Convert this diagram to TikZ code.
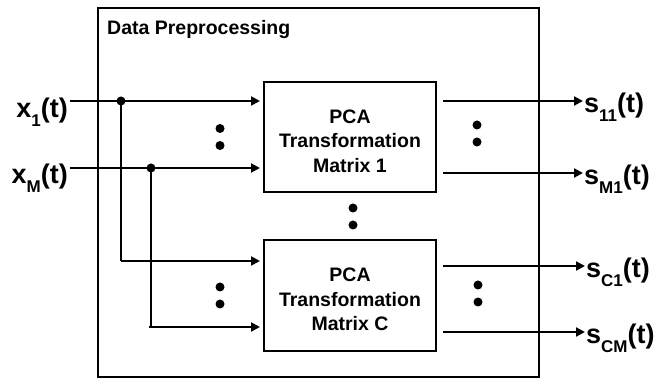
\documentclass[tikz,border=0pt]{standalone}
\usepackage{fontspec}
\setmainfont{Liberation Sans}
\usetikzlibrary{arrows.meta,calc}
\definecolor{ink}{HTML}{000000}
\newcommand{\boxfont}{\fontsize{19.5}{24.5}\selectfont\bfseries}
\newcommand{\sigfont}{\fontsize{27}{27}\selectfont\bfseries}
\newcommand{\sigsub}[1]{\raisebox{-0.32em}{\fontsize{17}{17}\selectfont #1}}
\newcommand{\topstrut}{\rule{0pt}{22pt}}
\tikzset{
  >={Triangle[length=9pt,width=9pt]},
  frame/.style={draw=ink, line width=2pt, minimum width=441pt, minimum height=369pt, inner sep=0pt},
  pcabox/.style={draw=ink, line width=2pt, minimum width=172pt, minimum height=110pt,
    align=center, font=\boxfont, text=ink, fill=white},
  arr/.style={->, draw=ink, line width=2pt},
  tap/.style={draw=ink, line width=1.2pt},
  jdot/.style={circle, fill=ink, inner sep=0pt, minimum size=9pt},
  sig/.style={font=\sigfont, text=ink, inner sep=0pt},
  ttl/.style={font=\boxfont, text=ink, anchor=base west, inner sep=0pt},
}
\newcommand{\vdotpair}[1]{\fill[ink] ($(#1)+(0,-8.5)$) circle (4.5pt) ($(#1)+(0,8.5)$) circle (4.5pt);}

\begin{document}
\begin{tikzpicture}[x=1pt,y=-1pt]
  \useasboundingbox (0,0) rectangle (667,379);
  % ---------------- outer block ----------------
  \node[frame] (prep) at (318.5,192.5) {};
  \node[ttl] (title) at (107,35) {Data Preprocessing};

  % ---------------- transformation matrices ----------------
  \node[pcabox] (pca1) at (350,137) {\topstrut PCA\\Transformation\\Matrix 1};
  \node[pcabox, minimum height=111pt] (pcaC) at (350,295.5) {\topstrut PCA\\Transformation\\Matrix C};

  % ---------------- inputs ----------------
  \node[sig, anchor=base east] (x1) at (68,118) {x\sigsub{1}(t)};
  \node[sig, anchor=base east] (xM) at (68,184) {x\sigsub{M}(t)};
  \coordinate (in1) at (70,101);
  \coordinate (inM) at (70,168);
  \coordinate (t1) at (121,261);
  \coordinate (tM) at (149,327);
  \node[jdot] (j1) at (121,101) {};
  \node[jdot] (jM) at (151,168) {};
  \draw[arr, shorten >=3pt] (in1) -- (in1 -| pca1.west);
  \draw[arr, shorten >=3pt] (inM) -- (inM -| pca1.west);
  \draw[tap] (j1.center) -- (t1);
  \draw[tap] (jM.center) -- (jM.center |- tM);
  \draw[arr, shorten >=3pt] (t1) -- (t1 -| pcaC.west);
  \draw[arr, shorten >=3pt] (tM) -- (tM -| pcaC.west);

  % ---------------- outputs ----------------
  \coordinate (o11) at (583,101);
  \coordinate (oM1) at (583,173);
  \coordinate (oC1) at (585,266);
  \coordinate (oCM) at (585,332);
  \draw[arr, shorten <=6pt] (pca1.east |- o11) -- (o11);
  \draw[arr, shorten <=6pt] (pca1.east |- oM1) -- (oM1);
  \draw[arr, shorten <=6pt] (pcaC.east |- oC1) -- (oC1);
  \draw[arr, shorten <=6pt] (pcaC.east |- oCM) -- (oCM);
  \node[sig, anchor=base west] (s11) at ($(o11)+(1,12)$) {s\sigsub{11}(t)};
  \node[sig, anchor=base west] (sM1) at ($(oM1)+(1,12)$) {s\sigsub{M1}(t)};
  \node[sig, anchor=base west] (sC1) at ($(oC1)+(1,12)$) {s\sigsub{C1}(t)};
  \node[sig, anchor=base west] (sCM) at ($(oCM)+(1,12)$) {s\sigsub{CM}(t)};

  % ---------------- ellipses ----------------
  \vdotpair{220,137}
  \vdotpair{477,133.5}
  \vdotpair{353,216.5}
  \vdotpair{220,295.5}
  \vdotpair{478,293.5}
\end{tikzpicture}
\end{document}
